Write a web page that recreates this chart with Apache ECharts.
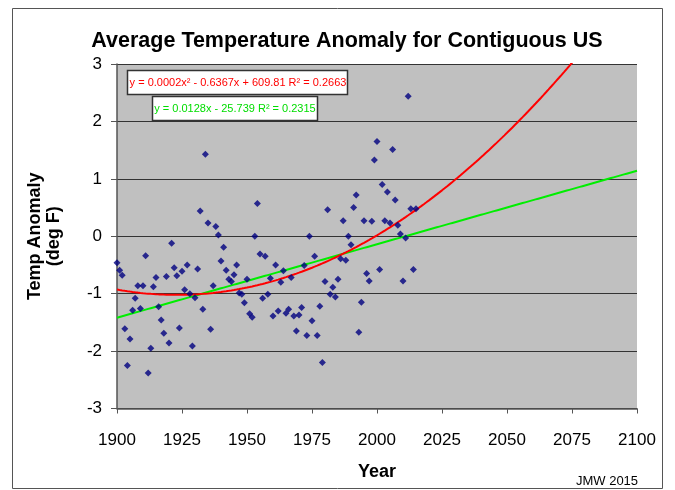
<!DOCTYPE html>
<html>
<head>
<meta charset="utf-8">
<script src="https://cdn.jsdelivr.net/npm/echarts@6/dist/echarts.min.js"></script>
<style>
html,body{margin:0;padding:0;background:#fff;}
#chart{width:675px;height:490px;}
</style>
</head>
<body>
<div id="chart"></div>
<script>
var years = [1900,1901,1902,1903,1904,1905,1906,1907,1908,1909,
1910,1911,1912,1913,1914,1915,1916,1917,1918,1919,
1920,1921,1922,1923,1924,1925,1926,1927,1928,1929,
1930,1931,1932,1933,1934,1935,1936,1937,1938,1939,
1940,1941,1942,1943,1944,1945,1946,1947,1948,1949,
1950,1951,1952,1953,1954,1955,1956,1957,1958,1959,
1960,1961,1962,1963,1964,1965,1966,1967,1968,1969,
1970,1971,1972,1973,1974,1975,1976,1977,1978,1979,
1980,1981,1982,1983,1984,1985,1986,1987,1988,1989,
1990,1991,1992,1993,1994,1995,1996,1997,1998,1999,
2000,2001,2002,2003,2004,2005,2006,2007,2008,2009,
2010,2011,2012,2013,2014,2015];
var anomalies = [-0.46,-0.59,-0.68,-1.61,-2.25,-1.79,-1.29,-1.08,-0.86,-1.26,
-0.86,-0.34,-2.38,-1.95,-0.88,-0.72,-1.23,-1.46,-1.69,-0.70,
-1.86,-0.12,-0.55,-0.69,-1.60,-0.61,-0.93,-0.50,-1.00,-1.91,
-1.07,-0.57,0.44,-1.27,1.43,0.23,-1.62,-0.86,0.17,0.02,
-0.43,-0.19,-0.59,-0.75,-0.79,-0.67,-0.50,-0.99,-1.01,-1.16,
-0.75,-1.35,-1.41,0.00,0.57,-0.31,-1.08,-0.35,-1.01,-0.73,
-1.39,-0.50,-1.30,-0.80,-0.60,-1.34,-1.27,-0.72,-1.39,-1.65,
-1.37,-1.24,-0.51,-1.73,0.00,-1.47,-0.35,-1.73,-1.22,-2.20,
-0.79,0.46,-1.01,-0.89,-1.06,-0.75,-0.39,0.27,-0.42,0.00,
-0.15,0.50,0.72,-1.67,-1.15,0.27,-0.65,-0.78,0.26,1.33,
1.65,-0.58,0.90,0.27,0.77,0.23,1.51,0.63,0.19,0.04,
-0.78,-0.03,2.44,0.48,-0.58,0.48];
var xTicks = [1900,1925,1950,1975,2000,2025,2050,2075,2100];
var yTicks = [-3,-2,-1,0,1,2,3];
// linear trendline coefficients as printed on the chart
var linSlope = 0.0128, linIntercept = -25.739;
var titleText = 'Average Temperature Anomaly for Contiguous US';
var polyEqText = 'y = 0.0002x\u00b2 - 0.6367x + 609.81 R\u00b2 = 0.2663';
var linEqText = 'y = 0.0128x - 25.739 R\u00b2 = 0.2315';
var creditText = 'JMW 2015';

// least-squares quadratic fit of the scatter (Excel polynomial trendline)
function solve3(M, v){
  var A = M.map(function(r,i){return r.concat([v[i]]);});
  for (var i=0;i<3;i++){
    var p=i; for (var k=i+1;k<3;k++) if (Math.abs(A[k][i])>Math.abs(A[p][i])) p=k;
    var t=A[i];A[i]=A[p];A[p]=t;
    for (var k=i+1;k<3;k++){var f=A[k][i]/A[i][i]; for (var j=i;j<4;j++) A[k][j]-=f*A[i][j];}
  }
  var x=[0,0,0];
  for (var i=2;i>=0;i--){var s=A[i][3]; for (var j=i+1;j<3;j++) s-=A[i][j]*x[j]; x[i]=s/A[i][i];}
  return x;
}
var c0 = 1950;
var S=[0,0,0,0,0], T=[0,0,0];
years.forEach(function(y,i){
  var t=y-c0, v=anomalies[i];
  for (var p=0;p<5;p++) S[p]+=Math.pow(t,p);
  for (var p=0;p<3;p++) T[p]+=v*Math.pow(t,p);
});
var quad = solve3([[S[0],S[1],S[2]],[S[1],S[2],S[3]],[S[2],S[3],S[4]]], T);
var polyLine=[], linLine=[];
for (var yr=xTicks[0]; yr<=xTicks[xTicks.length-1]; yr++){
  var t=yr-c0;
  polyLine.push([yr, quad[0]+quad[1]*t+quad[2]*t*t]);
  linLine.push([yr, linSlope*yr+linIntercept]);
}
var scatter = years.map(function(y,i){return [y, anomalies[i]];});

var FONT = '"Liberation Sans", Arial, sans-serif';
var chart = echarts.init(document.getElementById('chart'), null, {renderer:'canvas'});
chart.setOption({
  animation:false,
  backgroundColor:'#ffffff',
  title:{text:titleText, left:342, top:25, textAlign:'center',
    textStyle:{fontFamily:FONT, fontSize:21.5, fontWeight:'bold', color:'#000'}},
  grid:{left:117, right:38, top:64, bottom:81.5, show:true, backgroundColor:'#c0c0c0', borderWidth:0},
  xAxis:{type:'value', min:xTicks[0], max:xTicks[xTicks.length-1], interval:25,
    name:'Year', nameLocation:'middle', nameGap:55,
    nameTextStyle:{fontFamily:FONT, fontSize:18, fontWeight:'bold', color:'#000'},
    axisLine:{show:true, onZero:false, lineStyle:{color:'#555', width:1.5}},
    axisTick:{show:true, inside:false, length:5, lineStyle:{color:'#555'}},
    axisLabel:{fontFamily:FONT, fontSize:17, color:'#000', margin:23,
      formatter:function(v){return String(v);}},
    splitLine:{show:false}},
  yAxis:{type:'value', min:yTicks[0], max:yTicks[yTicks.length-1], interval:1,
    name:'Temp Anomaly\n(deg F)', nameLocation:'middle', nameGap:53, nameRotate:90,
    nameTextStyle:{fontFamily:FONT, fontSize:18, fontWeight:'bold', color:'#000', lineHeight:19, align:'center'},
    axisLine:{show:true, onZero:false, lineStyle:{color:'#555', width:1.5}},
    axisTick:{show:true, inside:false, length:6, lineStyle:{color:'#555'}},
    axisLabel:{fontFamily:FONT, fontSize:17, color:'#000', margin:15},
    splitLine:{show:true, lineStyle:{color:'#333', width:1}}},
  series:[
    {type:'scatter', data:scatter, symbol:'diamond', symbolSize:7,
     itemStyle:{color:'#000080'}, z:3},
    {type:'line', data:linLine, showSymbol:false, clip:true,
     lineStyle:{color:'#00ee00', width:2}, z:2},
    {type:'line', data:polyLine, showSymbol:false, clip:true,
     lineStyle:{color:'#ff0000', width:2}, z:2}
  ],
  graphic:[
    {type:'rect', shape:{x:12.5, y:8.5, width:650, height:480}, style:{fill:'none', stroke:'#555', lineWidth:1}, silent:true},
    {type:'rect', shape:{x:127.5, y:70.5, width:220, height:24}, style:{fill:'#fff', stroke:'#333', lineWidth:1.5}, z:10},
    {type:'text', x:238, y:83, style:{text:polyEqText, fill:'#ff0000', font:'11px '+FONT, textAlign:'center', textVerticalAlign:'middle'}, z:11},
    {type:'rect', shape:{x:152.5, y:96.5, width:165, height:24}, style:{fill:'#fff', stroke:'#333', lineWidth:1.5}, z:10},
    {type:'text', x:235, y:109, style:{text:linEqText, fill:'#00dd00', font:'11px '+FONT, textAlign:'center', textVerticalAlign:'middle'}, z:11},
    {type:'text', x:607, y:481, style:{text:creditText, fill:'#000', font:'13px '+FONT, textAlign:'center', textVerticalAlign:'middle'}}
  ]
});
</script>
</body>
</html>
